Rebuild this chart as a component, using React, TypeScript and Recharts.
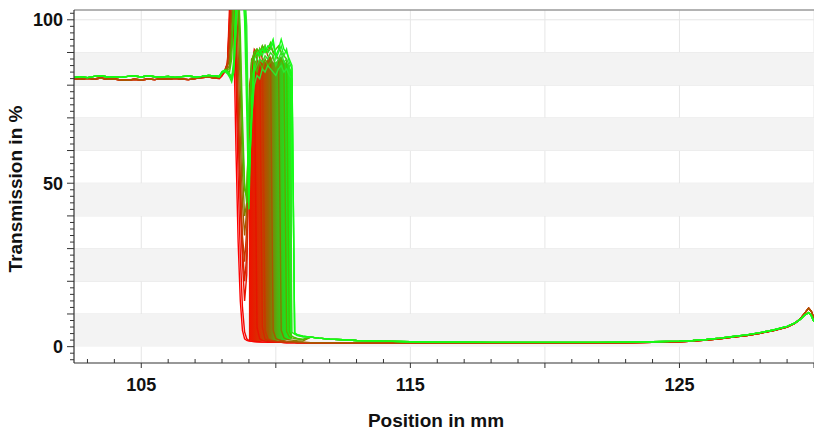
import { ComposedChart, Line, Area, XAxis, YAxis, ReferenceArea, ReferenceLine, CartesianGrid, Label } from 'recharts';

// flat section in front of the edge (mm / %)
const plateauMm = [102.5, 102.75, 103, 103.25, 103.5, 103.75, 104, 104.25, 104.5, 104.75, 105, 105.25, 105.5, 105.75, 106, 106.25, 106.5, 106.75, 107, 107.25, 107.5, 107.75];
const plateauRed = [82.0, 81.8, 82.1, 81.9, 82.2, 81.8, 81.9, 81.6, 81.5, 81.8, 81.6, 81.9, 81.7, 82.0, 81.8, 82.1, 81.9, 81.7, 82.0, 82.3, 82.5, 82.2];
const plateauGreen = [82.4, 82.6, 82.3, 82.7, 82.9, 82.5, 82.6, 82.4, 82.7, 82.8, 82.5, 82.9, 82.6, 82.5, 82.7, 82.4, 82.6, 82.8, 82.5, 82.7, 83.0, 82.8];

// the edge itself, sampled finer; runs ordered from first to last drop
const edgeMm = [107.9, 108.0, 108.1, 108.2, 108.28, 108.36, 108.44, 108.52, 108.6, 108.68, 108.76, 108.84, 108.92, 109.0, 109.1, 109.2, 109.3, 109.4, 109.5, 109.6, 109.7, 109.8, 109.9, 110.0, 110.1, 110.2, 110.3, 110.4, 110.5, 110.6, 110.7, 110.8, 111.0];
const edgeCurves = [
  [82.2, 83.0, 84.0, 85.8, 104, 112, 94, 60, 32, 14, 5, 2.4, 1.9, 1.7, 1.6, 1.5, 1.5, 1.4, 1.4, 1.4, 1.3, 1.3, 1.3, 1.3, 1.3, 1.3, 1.2, 1.2, 1.2, 1.2, 1.2, 1.2, 1.2],
  [82.0, 82.8, 84.2, 86.4, 96, 110, 108, 82, 52, 28, 12, 4.5, 2.4, 1.9, 1.7, 1.6, 1.5, 1.5, 1.4, 1.4, 1.4, 1.3, 1.3, 1.3, 1.3, 1.3, 1.3, 1.2, 1.2, 1.2, 1.2, 1.2, 1.2],
  [82.3, 83.3, 84.4, 86.8, 100, 112, 110, 90, 66, 44, 26, 14, 22, 56, 84, 89, 6, 2.4, 1.9, 1.7, 1.6, 1.5, 1.5, 1.4, 1.4, 1.4, 1.3, 1.3, 1.3, 1.3, 1.3, 1.2, 1.2],
  [82.3, 83.3, 84.4, 86.5, 98, 112, 111, 94, 70, 48, 30, 20, 28, 60, 85, 91, 90, 89, 6, 2.3, 1.9, 1.7, 1.6, 1.5, 1.5, 1.4, 1.4, 1.3, 1.3, 1.3, 1.3, 1.2, 1.2],
  [82.4, 83.4, 84.5, 86.2, 92, 108, 112, 102, 76, 52, 34, 26, 36, 64, 86, 90, 88, 91, 88, 5, 2.4, 2.0, 1.8, 1.7, 1.6, 1.5, 1.5, 1.4, 1.4, 1.4, 1.4, 1.3, 1.3],
  [82.5, 83.6, 84.6, 85.6, 88, 102, 112, 110, 90, 64, 44, 34, 42, 70, 87, 90, 89, 91, 90, 92, 89, 88, 5, 2.5, 2.1, 1.9, 1.8, 1.7, 1.6, 1.6, 1.5, 1.5, 1.4],
  [82.5, 83.8, 84.6, 85.0, 86, 96, 110, 112, 104, 78, 54, 40, 44, 72, 88, 89, 91, 90, 92, 91, 90, 92, 90, 89, 88, 5, 2.7, 2.3, 2.1, 2.0, 1.9, 1.8, 1.7],
  [82.6, 83.9, 84.6, 84.8, 85, 92, 108, 112, 110, 90, 64, 48, 46, 68, 82, 86, 84, 87, 85, 88, 86, 87, 89, 85, 86, 88, 86, 4.6, 3.0, 2.7, 2.5, 2.3, 2.1],
  [82.6, 84.0, 84.5, 84.5, 84, 88, 104, 112, 112, 96, 70, 50, 44, 70, 87, 90, 91, 89, 92, 90, 91, 93, 90, 91, 92, 90, 89, 88, 4.5, 3.2, 2.8, 2.5, 2.3],
  [82.6, 83.9, 84.4, 84.2, 83.5, 82.5, 85, 96, 110, 112, 112, 108, 90, 48, 72, 84, 86, 88, 87, 89, 88, 90, 89, 86, 88, 90, 87, 88, 86, 4.4, 3.8, 3.4, 3.0],
  [82.7, 84.0, 84.5, 84.0, 83.2, 82.0, 88, 108, 112, 112, 112, 110, 98, 56, 70, 80, 83, 82, 85, 84, 86, 85, 84, 83, 85, 86, 84, 85, 83, 82, 4.0, 3.5, 3.1],
  [82.5, 83.8, 84.2, 83.5, 82.5, 81, 84, 98, 112, 112, 112, 106, 86, 52, 68, 85, 88, 91, 89, 92, 90, 91, 93, 88, 90, 92, 89, 91, 87, 85, 4.2, 3.7, 3.3],
  [82.8, 84.2, 84.6, 84.0, 83, 82, 86, 106, 112, 112, 110, 100, 72, 42, 76, 88, 90, 89, 91, 90, 92, 92, 94, 89, 91, 94, 91, 90, 88, 86, 4.0, 3.6, 3.2],
];
const curveColors = ['#ff0000', '#f40600', '#e81200', '#d82600', '#c83800', '#a85800', '#808000', '#60a800', '#44c400', '#33dd22', '#2ee82e', '#22ee22', '#11ff11'];
const curveBase = ['red', 'red', 'red', 'red', 'red', 'red', 'green', 'green', 'green', 'green', 'green', 'green', 'green'];

// envelope of all the runs between first and last drop
const bandMm = [109.0, 109.1, 109.2, 109.3, 109.4, 109.5, 109.6, 109.7, 109.8, 109.9, 110.0, 110.1, 110.2, 110.3, 110.4, 110.5, 110.6];
const bandLow = [2.0, 1.7, 1.6, 1.6, 1.6, 1.6, 1.6, 1.6, 1.6, 1.7, 1.7, 1.8, 1.8, 1.9, 2.0, 2.1, 2.4];
const bandHigh = [80, 86, 87, 88, 87, 88, 87, 88, 89, 87, 87, 88, 89, 87, 87, 86, 84];

// low plateau behind the edge up to the end of the scan
const tailMm = [111.3, 111.6, 112, 112.5, 113, 113.5, 114, 115, 116, 117, 118, 119, 120, 121, 122, 123, 124, 125, 125.5, 126, 126.5, 127, 127.5, 128, 128.5, 129, 129.3, 129.5, 129.65, 129.8, 129.9, 130.0];
const tailRed = [1.2, 1.2, 1.2, 1.2, 1.2, 1.2, 1.2, 1.2, 1.1, 1.1, 1.1, 1.1, 1.1, 1.1, 1.2, 1.2, 1.3, 1.5, 1.7, 2.0, 2.4, 2.9, 3.4, 4.1, 4.9, 6.0, 7.2, 8.6, 10.2, 11.8, 10.8, 8.6];
const tailGreen = [2.9, 2.6, 2.3, 2.1, 1.9, 1.8, 1.7, 1.5, 1.4, 1.4, 1.3, 1.3, 1.3, 1.3, 1.3, 1.4, 1.5, 1.7, 1.9, 2.2, 2.6, 3.1, 3.6, 4.3, 5.1, 6.2, 7.3, 8.4, 9.6, 10.4, 9.5, 7.6];

const xTicks = [103, 104, 105, 106, 107, 108, 109, 110, 111, 112, 113, 114, 115, 116, 117, 118, 119, 120, 121, 122, 123, 124, 125, 126, 127, 128, 129, 130];
const xLabels = [105, 115, 125];
const xGrid = [105, 110, 115, 120, 125, 130];
const yTicks = [-4, -2, 0, 2, 4, 6, 8, 10, 12, 14, 16, 18, 20, 22, 24, 26, 28, 30, 32, 34, 36, 38, 40, 42, 44, 46, 48, 50, 52, 54, 56, 58, 60, 62, 64, 66, 68, 70, 72, 74, 76, 78, 80, 82, 84, 86, 88, 90, 92, 94, 96, 98, 100, 102];
const yLabels = [0, 50, 100];
const yGrid = [10, 20, 30, 40, 50, 60, 70, 80, 90, 100];
const shadedBands = [[0, 10], [20, 30], [40, 50], [60, 70], [80, 90]];

const FONT = "'Liberation Sans', Arial, sans-serif";

const pick = (c: number, red: number[], green: number[], i: number) => (curveBase[c] === 'red' ? red[i] : green[i]);

const rows = [
  ...plateauMm.map((mm, i) => {
    const row: Record<string, number> = { mm };
    curveColors.forEach((_, c) => { row[`c${c}`] = pick(c, plateauRed, plateauGreen, i); });
    return row;
  }),
  ...edgeMm.map((mm, i) => {
    const row: Record<string, number> = { mm };
    curveColors.forEach((_, c) => { row[`c${c}`] = edgeCurves[c][i]; });
    return row;
  }),
  ...tailMm.map((mm, i) => {
    const row: Record<string, number> = { mm };
    curveColors.forEach((_, c) => { row[`c${c}`] = pick(c, tailRed, tailGreen, i); });
    return row;
  }),
];

const bandRows = bandMm.map((mm, i) => ({ mm, v: [bandLow[i], bandHigh[i]] }));

const XTick = (props: any) => {
  const { x, y, payload } = props;
  const v = payload.value;
  const major = v % 5 === 0;
  return (
    <g>
      <line x1={x} x2={x} y1={major ? y : y - 4} y2={major ? y + 5 : y} stroke="#333" strokeWidth={1} />
      {xLabels.includes(v) && (
        <text x={x} y={y + 28} textAnchor="middle" fontFamily={FONT} fontWeight="bold" fontSize={18} fill="#111">
          {v}
        </text>
      )}
    </g>
  );
};

const YTick = (props: any) => {
  const { x, y, payload } = props;
  const v = payload.value;
  const major = v % 10 === 0;
  return (
    <g>
      <line x1={x - (major ? 7 : 4)} x2={x} y1={y} y2={y} stroke="#333" strokeWidth={1} />
      {yLabels.includes(v) && (
        <text x={x - 11} y={y + 6.5} textAnchor="end" fontFamily={FONT} fontWeight="bold" fontSize={18} fill="#111">
          {v}
        </text>
      )}
    </g>
  );
};

export default function App() {
  return (
    <div style={{ position: 'absolute', left: 0, top: 0, width: 814, height: 436, background: '#fff' }}>
      <ComposedChart width={814} height={436} data={rows} margin={{ top: 10, right: 0, bottom: 0, left: 0 }}>
        <defs>
          <linearGradient id="bandFill" x1="0" y1="0" x2="1" y2="0">
            <stop offset="0%" stopColor="#f01000" />
            <stop offset="25%" stopColor="#d83000" />
            <stop offset="45%" stopColor="#a06000" />
            <stop offset="65%" stopColor="#50b010" />
            <stop offset="85%" stopColor="#20e020" />
            <stop offset="100%" stopColor="#11ff11" />
          </linearGradient>
        </defs>

        <CartesianGrid horizontalValues={yGrid} verticalValues={xGrid} stroke="#e6e6e6" />
        {shadedBands.map(([a, b]) => (
          <ReferenceArea key={`band-${a}`} y1={a} y2={b} fill="#f3f3f3" fillOpacity={1} stroke="none" />
        ))}
        <ReferenceLine y={103} stroke="#9a9a9a" strokeWidth={1.5} />

        <XAxis
          type="number"
          dataKey="mm"
          domain={[102.5, 130]}
          allowDataOverflow
          ticks={xTicks}
          interval={0}
          height={73}
          tickSize={0}
          tickMargin={0}
          tickLine={false}
          axisLine={{ stroke: '#333', strokeWidth: 1.2 }}
          tick={XTick}
        >
          <Label
            content={() => (
              <text x={436} y={427} textAnchor="middle" fontFamily={FONT} fontWeight="bold" fontSize={19} fill="#111">
                Position in mm
              </text>
            )}
          />
        </XAxis>
        <YAxis
          type="number"
          domain={[-5, 103]}
          allowDataOverflow
          ticks={yTicks}
          interval={0}
          width={74}
          tickSize={0}
          tickMargin={0}
          tickLine={false}
          axisLine={{ stroke: '#333', strokeWidth: 1.2 }}
          tick={YTick}
        >
          <Label
            content={() => (
              <text
                x={22}
                y={189}
                transform="rotate(-90 22 189)"
                textAnchor="middle"
                fontFamily={FONT}
                fontWeight="bold"
                fontSize={19}
                fill="#111"
              >
                Transmission in %
              </text>
            )}
          />
        </YAxis>

        <Area data={bandRows} dataKey="v" type="linear" stroke="none" fill="url(#bandFill)" fillOpacity={1} isAnimationActive={false} />

        {curveColors.map((color, c) => (
          <Line
            key={`c${c}`}
            dataKey={`c${c}`}
            type="linear"
            stroke={color}
            strokeWidth={1.4}
            dot={false}
            activeDot={false}
            isAnimationActive={false}
          />
        ))}
      </ComposedChart>
    </div>
  );
}
